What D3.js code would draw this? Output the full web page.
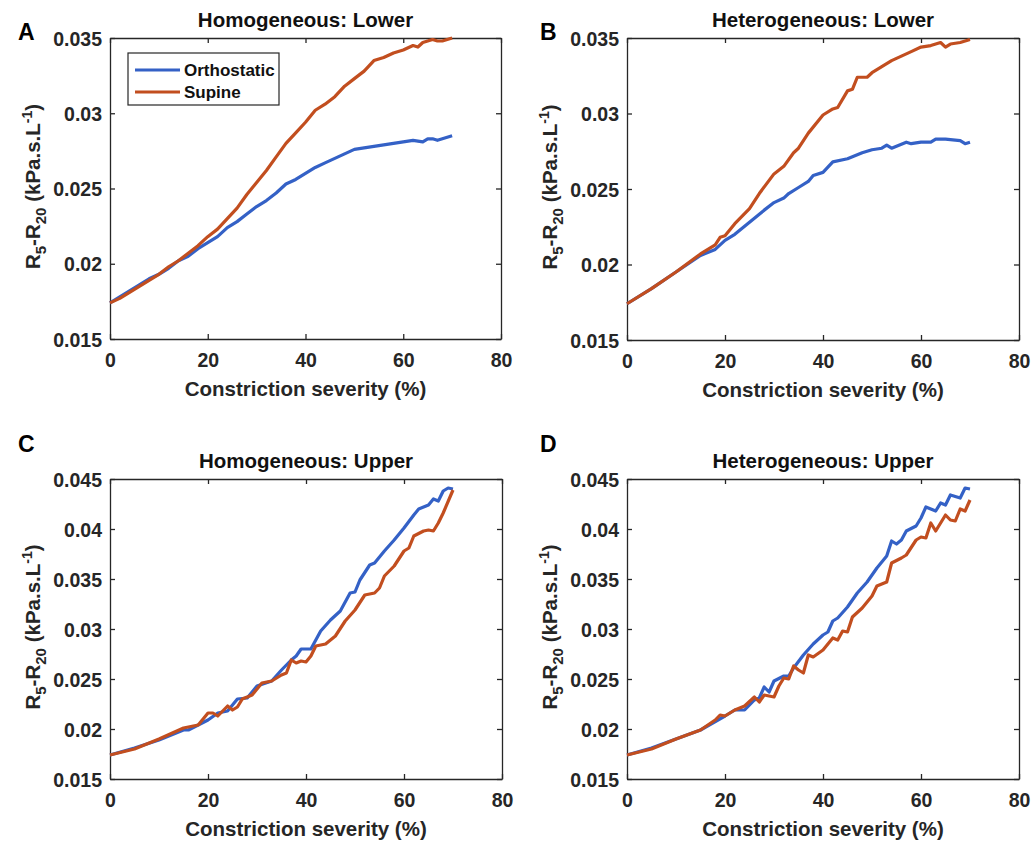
<!DOCTYPE html>
<html>
<head>
<meta charset="utf-8">
<script src="https://cdn.jsdelivr.net/npm/d3@7"></script>
<style>
  body { margin: 0; background: #fff; }
  text { font-family: "Liberation Sans", Arial, sans-serif; font-weight: bold; }
</style>
</head>
<body>
<script>
const width = 1032;
const height = 843;
const color = {
    ortho: "#3461c6",
    supine: "#c24e1f",
    axis: "#262626"
}

// x ticks and y ticks
const xTicks = [0, 20, 40, 60, 80];
const yTicksLower = [0.015, 0.02, 0.025, 0.03, 0.035];
const yTicksUpper = [0.015, 0.02, 0.025, 0.03, 0.035, 0.04, 0.045];
const seriesNames = ["Orthostatic", "Supine"];

// [constriction severity %, R5-R20]
const homLowerOrtho = [[0,0.0174],[2,0.0178],[4,0.0182],[6,0.0186],[8,0.0190],[10,0.0193],[12,0.0197],[14,0.0202],[16,0.0205],[18,0.0210],[20,0.0214],[22,0.0218],[24,0.0224],[26,0.0228],[28,0.0233],[30,0.0238],[32,0.0242],[34,0.0247],[36,0.0253],[38,0.0256],[40,0.0260],[42,0.0264],[44,0.0267],[46,0.0270],[48,0.0273],[50,0.0276],[52,0.0277],[54,0.0278],[56,0.0279],[58,0.0280],[60,0.0281],[62,0.0282],[64,0.0281],[65,0.0283],[66,0.0283],[67,0.0282],[68,0.0283],[70,0.0285]];
const homLowerSupine = [[0,0.0174],[2,0.0177],[4,0.0181],[6,0.0185],[8,0.0189],[10,0.0193],[12,0.0198],[14,0.0202],[16,0.0207],[18,0.0212],[20,0.0218],[22,0.0223],[24,0.0230],[26,0.0237],[28,0.0246],[30,0.0254],[32,0.0262],[34,0.0271],[36,0.0280],[38,0.0287],[40,0.0294],[42,0.0302],[44,0.0306],[46,0.0311],[48,0.0318],[50,0.0323],[52,0.0328],[54,0.0335],[56,0.0337],[58,0.0340],[60,0.0342],[62,0.0345],[63,0.0344],[64,0.0347],[66,0.0349],[67,0.0348],[68,0.0348],[70,0.0350]];

const hetLowerOrtho = [[0,0.0174],[5,0.0184],[10,0.0195],[15,0.0206],[18,0.0210],[20,0.0216],[22,0.0220],[25,0.0228],[28,0.0236],[30,0.0241],[32,0.0244],[33,0.0247],[35,0.0251],[37,0.0255],[38,0.0259],[40,0.0261],[42,0.0268],[45,0.0270],[48,0.0274],[50,0.0276],[52,0.0277],[53,0.0279],[54,0.0277],[57,0.0281],[58,0.0280],[60,0.0281],[62,0.0281],[63,0.0283],[65,0.0283],[68,0.0282],[69,0.0280],[70,0.0281]];
const hetLowerSupine = [[0,0.0174],[5,0.0184],[10,0.0195],[15,0.0207],[18,0.0213],[19,0.0218],[20,0.0219],[22,0.0227],[25,0.0237],[27,0.0247],[30,0.0260],[32,0.0265],[34,0.0274],[35,0.0277],[37,0.0287],[40,0.0299],[42,0.0303],[43,0.0304],[45,0.0315],[46,0.0316],[47,0.0324],[49,0.0324],[50,0.0327],[52,0.0331],[54,0.0335],[56,0.0338],[58,0.0341],[60,0.0344],[62,0.0345],[64,0.0347],[65,0.0344],[66,0.0346],[68,0.0347],[70,0.0349]];

const homUpperOrtho = [[0,0.0174],[5,0.0181],[10,0.0189],[15,0.0199],[16,0.0199],[20,0.0209],[22,0.0216],[24,0.0218],[26,0.0230],[28,0.0231],[30,0.0243],[33,0.0248],[35,0.0259],[37,0.0269],[38,0.0273],[39,0.0280],[41,0.0280],[42,0.0289],[43,0.0298],[45,0.0309],[47,0.0318],[49,0.0336],[50,0.0337],[51,0.0349],[53,0.0364],[54,0.0366],[56,0.0378],[58,0.0389],[60,0.0401],[62,0.0414],[63,0.0420],[65,0.0424],[66,0.0430],[67,0.0428],[68,0.0438],[69,0.0441],[70,0.0440]];
const homUpperSupine = [[0,0.0174],[5,0.0180],[10,0.0190],[15,0.0201],[18,0.0204],[20,0.0216],[21,0.0216],[22,0.0213],[24,0.0223],[25,0.0219],[26,0.0222],[27,0.0230],[29,0.0234],[31,0.0246],[33,0.0248],[35,0.0254],[36,0.0256],[37,0.0269],[38,0.0266],[39,0.0268],[40,0.0267],[41,0.0273],[42,0.0283],[44,0.0285],[46,0.0293],[48,0.0308],[50,0.0319],[52,0.0334],[54,0.0336],[55,0.0341],[56,0.0353],[58,0.0363],[60,0.0378],[61,0.0381],[62,0.0393],[64,0.0398],[65,0.0399],[66,0.0398],[67,0.0406],[68,0.0416],[70,0.0439]];

const hetUpperOrtho = [[0,0.0174],[5,0.0181],[10,0.0190],[15,0.0199],[20,0.0213],[22,0.0219],[24,0.0219],[26,0.0229],[27,0.0231],[28,0.0242],[29,0.0237],[30,0.0248],[32,0.0253],[33,0.0253],[34,0.0261],[36,0.0274],[38,0.0285],[40,0.0294],[41,0.0297],[42,0.0308],[43,0.0311],[45,0.0322],[47,0.0336],[49,0.0347],[51,0.0361],[53,0.0373],[54,0.0388],[55,0.0385],[56,0.0389],[57,0.0398],[59,0.0403],[60,0.0411],[61,0.0422],[63,0.0418],[64,0.0426],[65,0.0424],[66,0.0434],[68,0.0431],[69,0.0441],[70,0.0440]];
const hetUpperSupine = [[0,0.0174],[5,0.0180],[10,0.0190],[15,0.0199],[18,0.0209],[19,0.0214],[20,0.0213],[22,0.0219],[24,0.0223],[26,0.0232],[27,0.0227],[28,0.0234],[30,0.0232],[31,0.0243],[32,0.0251],[33,0.0250],[34,0.0263],[35,0.0259],[36,0.0256],[37,0.0274],[38,0.0272],[40,0.0279],[42,0.0291],[43,0.0289],[44,0.0298],[45,0.0297],[46,0.0312],[48,0.0321],[50,0.0333],[51,0.0343],[53,0.0347],[54,0.0366],[56,0.0371],[57,0.0374],[59,0.0389],[60,0.0392],[61,0.0391],[62,0.0406],[63,0.0398],[65,0.0414],[66,0.0409],[67,0.0408],[68,0.0420],[69,0.0418],[70,0.0429]];

const panels = [
    { letter: "A", title: "Homogeneous: Lower", left: 110, right: 501, top: 38, bottom: 339, yTicks: yTicksLower, ortho: homLowerOrtho, supine: homLowerSupine, legend: true },
    { letter: "B", title: "Heterogeneous: Lower", left: 627, right: 1019, top: 38, bottom: 340, yTicks: yTicksLower, ortho: hetLowerOrtho, supine: hetLowerSupine },
    { letter: "C", title: "Homogeneous: Upper", left: 110, right: 502, top: 479, bottom: 779, yTicks: yTicksUpper, ortho: homUpperOrtho, supine: homUpperSupine },
    { letter: "D", title: "Heterogeneous: Upper", left: 627, right: 1019, top: 479, bottom: 779, yTicks: yTicksUpper, ortho: hetUpperOrtho, supine: hetUpperSupine }
]

let svg = d3.select("body").append("svg")
    .attr("width", width)
    .attr("height", height)

function fmt(v) {
    return String(+v.toFixed(3))
}

panels.forEach(function (p) {
    let x = d3.scaleLinear().domain([0, 80]).range([p.left, p.right]);
    let y = d3.scaleLinear().domain(d3.extent(p.yTicks)).range([p.bottom, p.top]);
    let g = svg.append("g")

    // axes, ticks pointing inward like matlab
    let bottomAxis = g.append("g")
        .attr("transform", "translate(0," + p.bottom + ")")
        .call(d3.axisBottom(x).tickValues(xTicks).tickSizeInner(-5).tickSizeOuter(0).tickPadding(10))
    let leftAxis = g.append("g")
        .attr("transform", "translate(" + p.left + ",0)")
        .call(d3.axisLeft(y).tickValues(p.yTicks).tickFormat(fmt).tickSizeInner(-5).tickSizeOuter(0).tickPadding(8))
    let topAxis = g.append("g")
        .attr("transform", "translate(0," + p.top + ")")
        .call(d3.axisTop(x).tickValues(xTicks).tickFormat("").tickSizeInner(-5).tickSizeOuter(0))
    let rightAxis = g.append("g")
        .attr("transform", "translate(" + p.right + ",0)")
        .call(d3.axisRight(y).tickValues(p.yTicks).tickFormat("").tickSizeInner(-5).tickSizeOuter(0))

    ;[bottomAxis, leftAxis, topAxis, rightAxis].forEach(function (a) {
        a.selectAll("path, line").attr("stroke", color.axis).attr("stroke-width", 1.3)
        a.selectAll("text").attr("fill", color.axis).attr("font-size", 19.5)
            .attr("font-family", "Liberation Sans, Arial, sans-serif").attr("font-weight", "bold")
    })
    bottomAxis.selectAll("text").attr("dy", "0.9em")
    leftAxis.selectAll("text").attr("dy", "0.36em")

    let line = d3.line()
        .x(d => x(d[0]))
        .y(d => y(d[1]))

    g.append("path")
        .datum(p.ortho)
        .attr("fill", "none")
        .attr("stroke", color.ortho)
        .attr("stroke-width", 3.2)
        .attr("stroke-linejoin", "round")
        .attr("d", line)
    g.append("path")
        .datum(p.supine)
        .attr("fill", "none")
        .attr("stroke", color.supine)
        .attr("stroke-width", 3.2)
        .attr("stroke-linejoin", "round")
        .attr("d", line)

    let cx = (p.left + p.right) / 2;
    g.append("text")
        .attr("x", cx)
        .attr("y", p.top - 11)
        .attr("text-anchor", "middle")
        .attr("font-size", 20.5)
        .attr("fill", "#111")
        .text(p.title)

    g.append("text")
        .attr("x", p.left - 92 + (p.letter === "B" || p.letter === "D" ? 5 : 0))
        .attr("y", p.letter === "A" || p.letter === "B" ? 40 : 452)
        .attr("font-size", 23)
        .attr("fill", "#000")
        .text(p.letter)

    g.append("text")
        .attr("x", cx)
        .attr("y", p.bottom + 57)
        .attr("text-anchor", "middle")
        .attr("font-size", 20.5)
        .attr("fill", color.axis)
        .text("Constriction severity (%)")

    let yl = g.append("text")
        .attr("transform", "translate(" + (p.left - 70) + "," + ((p.top + p.bottom) / 2 - 2) + ")rotate(-90)")
        .attr("text-anchor", "middle")
        .attr("font-size", 20.5)
        .attr("fill", color.axis)
    yl.append("tspan").text("R")
    yl.append("tspan").attr("font-size", 15).attr("dy", 6).text("5")
    yl.append("tspan").attr("dy", -6).text("-R")
    yl.append("tspan").attr("font-size", 15).attr("dy", 6).text("20")
    yl.append("tspan").attr("dy", -6).text(" (kPa.s.L")
    yl.append("tspan").attr("font-size", 14).attr("dy", -8).text("-1")
    yl.append("tspan").attr("dy", 8).text(")")

    if (p.legend) {
        let lg = g.append("g")
        lg.append("rect")
            .attr("x", 128).attr("y", 53)
            .attr("width", 151).attr("height", 52)
            .attr("fill", "#fff")
            .attr("stroke", color.axis)
            .attr("stroke-width", 1.2)
        seriesNames.forEach(function (name, i) {
            let ly = 70 + i * 22;
            lg.append("line")
                .attr("x1", 135).attr("x2", 180)
                .attr("y1", ly).attr("y2", ly)
                .attr("stroke", i === 0 ? color.ortho : color.supine)
                .attr("stroke-width", 3.2)
            lg.append("text")
                .attr("x", 184).attr("y", ly + 6)
                .attr("font-size", 17)
                .attr("fill", "#111")
                .text(name)
        })
    }
})
</script>
</body>
</html>
